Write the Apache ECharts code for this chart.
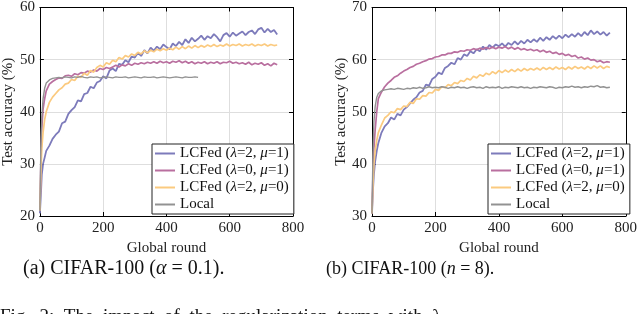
<!DOCTYPE html>
<html>
<head>
<meta charset="utf-8">
<script src="https://cdn.jsdelivr.net/npm/echarts@6/dist/echarts.min.js"></script>
<style>
html,body{margin:0;padding:0;background:#fff;}
#c{width:640px;height:314px;}
</style>
</head>
<body>
<div id="c"></div>
<script>
// ---- data ----
const rounds = [0,3,6,10,15,20,30,40,50,60,70,80,90,100,110,120,130,140,150,160,170,180,190,200,210,220,230,240,250,260,270,280,290,300,310,320,330,340,350,360,370,380,390,400,410,420,430,440,450,460,470,480,490,500,510,520,530,540,550,560,570,580,590,600,610,620,630,640,650,660,670,680,690,700,710,720,730,740,750];
const seriesNames = ['LCFed (λ=2, μ=1)','LCFed (λ=0, μ=1)','LCFed (λ=2, μ=0)','Local'];
const xTicks = [0,200,400,600,800];
const yTicksA = [20,30,40,50,60];
const yTicksB = [30,40,50,60,70];

// (a) CIFAR-100 (alpha = 0.1)
const aBlue = [20.5,24,28,30,31.2,32.5,33.5,34.8,35.6,36.2,37.8,38.1,39.6,40.3,40.9,42.2,42.0,43.4,43.6,44.8,44.5,45.6,45.9,46.8,46.4,47.9,48.3,47.8,49.2,49.0,49.9,49.5,50.6,50.4,51.3,50.7,51.8,51.2,52.3,51.7,52.5,52.0,52.9,52.4,52.0,53.1,52.6,53.4,52.8,53.9,53.2,54.2,53.5,54.0,54.6,53.8,54.5,54.1,54.9,54.3,53.5,54.7,55.1,54.4,55.2,54.6,55.0,55.4,54.7,55.3,55.6,54.9,55.8,56.1,55.2,55.9,55.3,55.7,54.8];
const aPink = [21,30,37,40.5,42.5,44,45.3,45.8,46.2,46.5,46.4,46.9,47.0,46.8,47.3,47.1,47.5,47.4,47.8,47.6,48.0,47.8,48.3,48.1,48.5,48.3,48.6,48.9,48.6,49.0,48.8,49.2,48.9,49.3,49.1,49.4,49.2,49.5,49.3,49.6,49.3,49.7,49.4,49.6,49.3,49.7,49.5,49.8,49.4,49.7,49.3,49.6,49.2,49.5,49.3,49.6,49.2,49.5,49.3,49.6,49.2,49.5,49.4,49.7,49.3,49.5,49.2,49.4,49.1,49.5,49.0,49.3,49.1,49.4,48.9,49.2,48.8,49.3,49.0];
const aYellow = [21,28,33,36,38.5,40,41.8,42.8,43.5,44.2,44.6,45.3,45.5,46.2,46.0,46.8,46.6,47.4,47.0,47.9,47.6,48.5,48.9,48.6,49.4,49.1,49.9,49.6,50.4,50.1,50.8,50.5,51.1,50.8,51.4,51.1,51.7,51.3,51.8,51.5,52.0,51.7,52.1,51.8,52.2,51.9,52.4,52.0,52.5,52.1,52.6,52.2,52.7,52.3,52.7,52.4,52.8,52.5,52.9,52.5,52.8,52.6,53.0,52.6,52.9,52.7,53.0,52.6,52.9,52.7,53.0,52.6,52.9,52.7,53.0,52.6,52.9,52.7,52.8];
const aGray = [21,33,39,42.5,44.5,45.5,46.1,46.4,46.5,46.6,46.5,46.7,46.6,46.5,46.7,46.6,46.8,46.6,46.5,46.7,46.6,46.7,46.5,46.6,46.7,46.6,46.5,46.7,46.6,46.6,46.7,46.5,46.6,46.7,46.6,46.5,46.7,46.6,46.6,46.7,46.5,46.6,46.7,46.6,46.5,46.6,46.7,46.6,46.5,46.7,46.6,46.6,46.7,46.6];

// (b) CIFAR-100 (n = 8)
const bBlue = [30.5,35,38,40.5,42.5,44,46,47.2,47.8,48.9,48.5,49.6,49.3,50.4,50.9,51.6,52.3,52.8,53.7,54.0,55.2,55.0,56.3,56.7,57.5,57.2,58.4,58.8,59.4,59.1,60.3,60.0,61.0,60.7,61.6,61.2,62.0,61.6,62.5,61.9,62.8,62.3,62.9,62.6,63.1,62.5,63.2,62.8,63.5,62.9,63.6,63.1,63.8,63.3,63.9,63.4,64.2,63.6,64.3,63.8,64.5,64.0,64.6,64.1,64.8,64.3,64.9,64.4,65.1,64.5,65.3,64.7,65.6,64.9,65.4,64.8,65.3,64.6,65.2];
const bPink = [30.5,38,43,46.5,50,52.5,53.8,54.8,55.5,56.0,56.6,56.9,57.4,57.8,58.1,58.5,58.7,59.1,59.3,59.6,59.8,60.1,60.2,60.5,60.6,60.9,60.9,61.2,61.2,61.5,61.4,61.7,61.6,61.9,61.8,62.1,61.9,62.2,62.0,62.3,62.1,62.4,62.1,62.4,62.2,62.5,62.1,62.4,62.0,62.3,61.9,62.1,61.8,62.0,61.7,61.9,61.5,61.8,61.4,61.6,61.2,61.4,61.0,61.2,60.8,61.0,60.6,60.8,60.3,60.5,60.1,60.3,59.9,60.0,59.6,59.8,59.4,59.6,59.5];
const bYellow = [30.5,36,40,42.5,44.5,46,47.5,48.8,49.3,50.0,49.8,50.6,50.4,51.1,51.0,51.8,51.6,52.5,52.4,53.1,53.0,53.7,53.6,54.3,54.1,54.8,54.6,55.2,55.0,55.6,55.4,56.0,55.8,56.4,56.1,56.8,56.5,57.1,56.8,57.4,57.1,57.7,57.3,57.9,57.5,58.0,57.6,58.1,57.7,58.2,57.8,58.3,57.9,58.3,58.0,58.4,58.0,58.5,58.1,58.5,58.1,58.6,58.2,58.5,58.1,58.6,58.2,58.7,58.3,58.6,58.2,58.7,58.3,58.8,58.4,58.8,58.3,58.7,58.5];
const bGray = [30.5,42,48,51,52.8,53.5,54.0,54.2,54.3,54.4,54.3,54.5,54.4,54.3,54.5,54.4,54.6,54.5,54.7,54.5,54.6,54.8,54.6,54.7,54.6,54.8,54.7,54.5,54.7,54.6,54.8,54.6,54.7,54.5,54.7,54.8,54.6,54.7,54.5,54.8,54.6,54.7,54.6,54.8,54.5,54.7,54.6,54.8,54.7,54.6,54.8,54.6,54.7,54.5,54.7,54.6,54.8,54.7,54.6,54.8,54.7,54.5,54.7,54.6,54.8,54.7,54.9,54.7,54.8,54.6,54.8,54.7,54.9,54.8,55.0,54.7,54.8,54.6,54.7];

// ---- styling ----
const colors = ['#7d7bbb','#b96f9f','#fbca7f','#929292'];
const widths = [1.8,1.7,1.7,1.4];
const FONT = 'Liberation Serif';

function pairs(vals){
  const out=[];
  for(let i=0;i<vals.length && i<rounds.length;i++) out.push([rounds[i], vals[i]]);
  return out;
}

function axesFor(g, yMin, yMax, leftName){
  const common = {gridIndex:g, min:0, max:800, interval:200, type:'value'};
  const xs = [
    Object.assign({}, common, {position:'bottom',
      axisLine:{show:true,onZero:false,lineStyle:{color:'#000',width:1}},
      axisTick:{show:true,inside:true,length:4,lineStyle:{color:'#000'}},
      axisLabel:{color:'#222',fontFamily:FONT,fontSize:15,margin:5},
      splitLine:{show:true,lineStyle:{color:'#dedede',width:1}},
      name:'Global round', nameLocation:'middle', nameGap:24,
      nameTextStyle:{color:'#222',fontFamily:FONT,fontSize:15}}),
    Object.assign({}, common, {position:'top',
      axisLine:{show:true,onZero:false,lineStyle:{color:'#000',width:1}},
      axisTick:{show:true,inside:true,length:4,lineStyle:{color:'#000'}},
      axisLabel:{show:false}, splitLine:{show:false}})
  ];
  const yc = {gridIndex:g, min:yMin, max:yMax, interval:10, type:'value'};
  const ys = [
    Object.assign({}, yc, {position:'left',
      axisLine:{show:true,onZero:false,lineStyle:{color:'#000',width:1}},
      axisTick:{show:true,inside:true,length:4,lineStyle:{color:'#000'}},
      axisLabel:{color:'#222',fontFamily:FONT,fontSize:15,margin:5},
      splitLine:{show:true,lineStyle:{color:'#dedede',width:1}},
      name:'Test accuracy (%)', nameLocation:'middle', nameGap:leftName,
      nameTextStyle:{color:'#222',fontFamily:FONT,fontSize:15}}),
    Object.assign({}, yc, {position:'right',
      axisLine:{show:true,onZero:false,lineStyle:{color:'#000',width:1}},
      axisTick:{show:true,inside:true,length:4,lineStyle:{color:'#000'}},
      axisLabel:{show:false}, splitLine:{show:false}})
  ];
  return {xs, ys};
}

const A = axesFor(0, 20, 60, 22);
const B = axesFor(1, 30, 70, 22);

function mk(name, vals, ci, xi, yi){
  return {name, type:'line', xAxisIndex:xi, yAxisIndex:yi, data:pairs(vals),
    showSymbol:false, symbol:'none', animation:false,
    lineStyle:{color:colors[ci], width:widths[ci]}, itemStyle:{color:colors[ci]}};
}

function legendLabel(name){
  const m = name.match(/^LCFed \(λ=(\d), μ=(\d)\)$/);
  if(!m) return '{n|' + name + '}';
  return '{n|LCFed (}{i|λ}{n|=' + m[1] + ', }{i|μ}{n|=' + m[2] + ')}';
}

const legendCommon = {orient:'vertical', icon:'rect', itemWidth:20, itemHeight:2, itemGap:2,
  padding:[2,5,2,3], borderColor:'#222', borderWidth:1, backgroundColor:'#fff',
  formatter:legendLabel,
  textStyle:{fontFamily:FONT, fontSize:15, color:'#111', lineHeight:15,
    rich:{n:{fontFamily:FONT,fontSize:15,color:'#111'}, i:{fontFamily:FONT,fontSize:15,fontStyle:'italic',color:'#111'}}},
  selectedMode:false};

const option = {
  animation:false,
  grid:[
    {left:35, top:6, width:258, height:210, containLabel:false},
    {left:372, top:6, width:258, height:210, containLabel:false}
  ],
  xAxis:[A.xs[0], A.xs[1], B.xs[0], B.xs[1]],
  yAxis:[A.ys[0], A.ys[1], B.ys[0], B.ys[1]],
  legend:[
    Object.assign({}, legendCommon, {left:152, top:144, data:seriesNames.slice()}),
    Object.assign({}, legendCommon, {left:488, top:144, data:seriesNames.slice()})
  ],
  series:[
    mk(seriesNames[0], aBlue, 0, 0, 0),
    mk(seriesNames[1], aPink, 1, 0, 0),
    mk(seriesNames[2], aYellow, 2, 0, 0),
    mk(seriesNames[3], aGray, 3, 0, 0),
    mk(seriesNames[0], bBlue, 0, 2, 2),
    mk(seriesNames[1], bPink, 1, 2, 2),
    mk(seriesNames[2], bYellow, 2, 2, 2),
    mk(seriesNames[3], bGray, 3, 2, 2)
  ],
  graphic:[
    {type:'text', left:23, top:259, style:{
      text:'{n|(a) CIFAR-100 (}{i|α}{n| = 0.1).}',
      rich:{n:{fontFamily:FONT,fontSize:20,fill:'#111'}, i:{fontFamily:FONT,fontSize:20,fontStyle:'italic',fill:'#111'}}}},
    {type:'text', left:326, top:260, style:{
      text:'{n|(b) CIFAR-100 (}{i|n}{n| = 8).}',
      rich:{n:{fontFamily:FONT,fontSize:18,fill:'#111'}, i:{fontFamily:FONT,fontSize:18,fontStyle:'italic',fill:'#111'}}}},
    {type:'text', left:0, top:308, style:{
      text:'Fig.  2:  The  impact  of  the  regularization  terms  with  λ',
      fontFamily:FONT, fontSize:19, fill:'#111'}}
  ]
};

const chart = echarts.init(document.getElementById('c'), null, {renderer:'canvas'});
chart.setOption(option);
</script>
</body>
</html>
